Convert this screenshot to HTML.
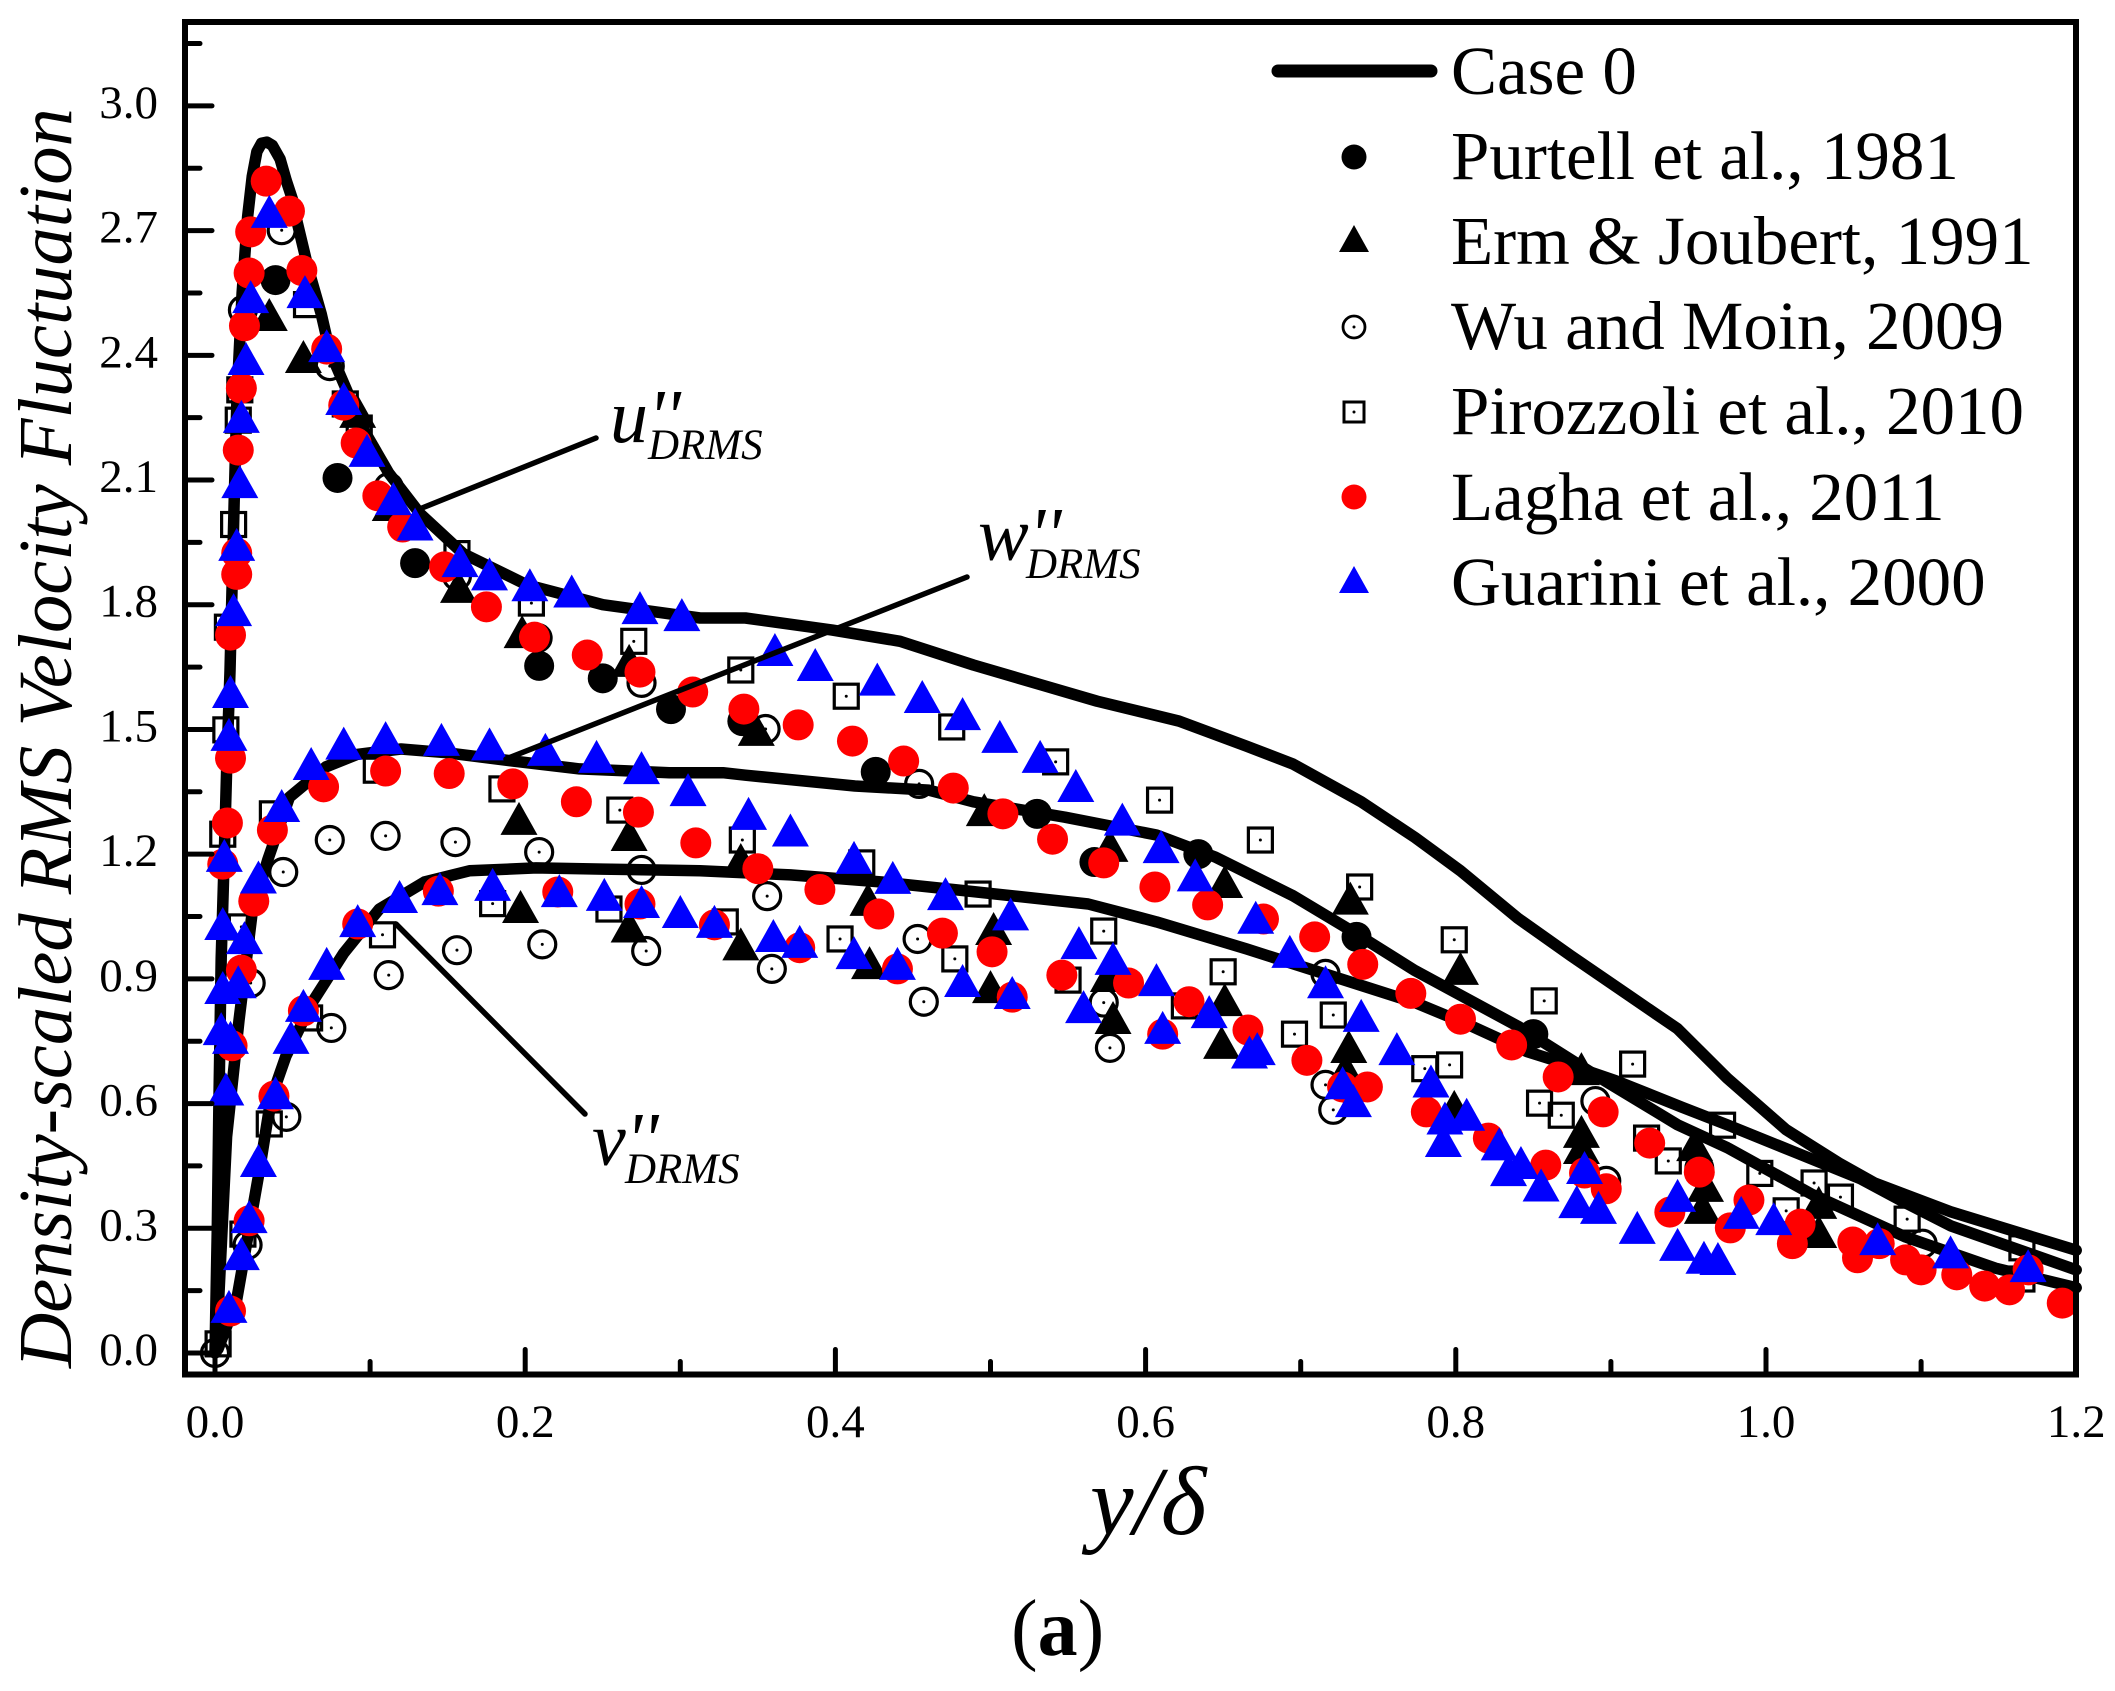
<!DOCTYPE html>
<html lang="en">
<head>
<meta charset="utf-8">
<title>Density-scaled RMS Velocity Fluctuation</title>
<style>
html,body{margin:0;padding:0;background:#fff;width:2115px;height:1691px;overflow:hidden}
svg{display:block}
text{font-family:"Liberation Serif",serif;fill:#000}
.it{font-style:italic}
</style>
</head>
<body>
<svg id="chart" xmlns="http://www.w3.org/2000/svg" width="2115" height="1691" viewBox="0 0 2115 1691">
<rect width="2115" height="1691" fill="#fff"/>
<g id="curves"></g>
<g id="marks"></g>
<g id="axes"></g>

<g>
<line x1="422" y1="508" x2="596" y2="438" stroke="#000" stroke-width="5.5" stroke-linecap="round"/>
<line x1="506" y1="759" x2="967" y2="577" stroke="#000" stroke-width="5.5" stroke-linecap="round"/>
<line x1="396" y1="924" x2="585" y2="1114" stroke="#000" stroke-width="5.5" stroke-linecap="round"/>
<text class="it" x="610" y="442" font-size="76">u''</text>
<text class="it" x="648" y="459" font-size="43">DRMS</text>
<text class="it" x="978" y="560" font-size="76">w''</text>
<text class="it" x="1026" y="578" font-size="43">DRMS</text>
<text class="it" x="592" y="1165" font-size="76">v''</text>
<text class="it" x="625" y="1183" font-size="43">DRMS</text>
</g>

<g font-size="69">
<line x1="1278" y1="71" x2="1431" y2="71" stroke="#000" stroke-width="13" stroke-linecap="round"/>
<text x="1451" y="94">Case 0</text>
<circle cx="1354" cy="157" r="12.5" fill="#000"/>
<text x="1451" y="179">Purtell et al., 1981</text>
<polygon points="1354,225 1369,252 1339,252" fill="#000"/>
<text x="1451" y="264">Erm &amp; Joubert, 1991</text>
<circle cx="1354" cy="327" r="11" fill="none" stroke="#000" stroke-width="2.8"/>
<circle cx="1354" cy="327" r="1.5" fill="#000"/>
<text x="1451" y="349">Wu and Moin, 2009</text>
<rect x="1344" y="402" width="20" height="20" fill="none" stroke="#000" stroke-width="3"/>
<circle cx="1354" cy="412" r="1.5" fill="#000"/>
<text x="1451" y="434">Pirozzoli et al., 2010</text>
<circle cx="1354" cy="497" r="12.5" fill="#f00"/>
<text x="1451" y="520">Lagha et al., 2011</text>
<polygon points="1354,566 1369,593 1339,593" fill="#00f"/>
<text x="1451" y="605">Guarini et al., 2000</text>
</g>

<text class="it" font-size="76.5" transform="translate(71,1368) rotate(-90)">Density-scaled RMS Velocity Fluctuation</text>
<text class="it" font-size="98" x="1090" y="1534">y/δ</text>
<text font-size="80" x="1011" y="1655">(<tspan font-weight="bold">a</tspan>)</text>
</svg>

<script>
const yTickLabels = ["0.0","0.3","0.6","0.9","1.2","1.5","1.8","2.1","2.4","2.7","3.0"];
const xTickLabels = ["0.0","0.2","0.4","0.6","0.8","1.0","1.2"];
const yMinorTicks = [0.15,0.45,0.75,1.05,1.35,1.65,1.95,2.25,2.55,2.85,3.15];
const xMinorTicks = [0.1,0.3,0.5,0.7,0.9,1.1];

const uCurve = [[0,0],[.0015,.3],[.0025,.6],[.004,.95],[.006,1.2],[.0075,1.4],[.0097,1.64],[.0125,2.07],[.0142,2.3],[.0175,2.55],[.021,2.733],[.024,2.83],[.027,2.89],[.03,2.91],[.0335,2.913],[.037,2.905],[.042,2.872],[.046,2.82],[.05,2.774],[.053,2.72],[.06,2.61],[.0685,2.5],[.074,2.41],[.096,2.22],[.112,2.117],[.132,2.02],[.16,1.923],[.201,1.848],[.25,1.80],[.3127,1.768],[.342,1.768],[.398,1.739],[.4417,1.712],[.489,1.655],[.533,1.607],[.5687,1.568],[.6216,1.52],[.665,1.46],[.695,1.417],[.739,1.326],[.7737,1.24],[.803,1.16],[.84,1.046],[.874,.956],[.912,.859],[.943,.78],[.975,.661],[1.013,.537],[1.047,.457],[1.07,.409],[1.119,.34],[1.2,.247]];
const wCurve = [[0,0],[.002,.1],[.0075,.52],[.0155,.80],[.024,1.06],[.034,1.186],[.048,1.337],[.0715,1.41],[.0916,1.44],[.12,1.453],[.149,1.444],[.192,1.424],[.235,1.405],[.293,1.396],[.3275,1.396],[.342,1.39],[.4126,1.364],[.46,1.354],[.489,1.326],[.548,1.289],[.607,1.246],[.645,1.193],[.695,1.10],[.733,1.015],[.7737,.92],[.841,.784],[.889,.671],[.943,.549],[.975,.494],[1.03,.381],[1.09,.279],[1.148,.204],[1.2,.157]];
const vCurve = [[0,0],[.002,.01],[.0139,.127],[.029,.447],[.036,.61],[.0457,.714],[.0628,.844],[.083,.962],[.106,1.068],[.135,1.133],[.164,1.16],[.207,1.167],[.25,1.164],[.3127,1.16],[.371,1.15],[.43,1.133],[.489,1.11],[.563,1.08],[.607,1.037],[.665,.972],[.724,.902],[.7737,.843],[.808,.79],[.846,.725],[.874,.692],[.903,.655],[.946,.591],[.975,.549],[1.018,.484],[1.061,.419],[1.09,.361],[1.119,.306],[1.2,.2]];

const purtell = [[.039,2.581],[.079,2.105],[.129,1.900],[.209,1.653],[.250,1.623],[.294,1.549],[.340,1.520],[.426,1.398],[.530,1.297],[.634,1.200],[.736,1.001],[.850,.767],[.957,.445],[.567,1.181]];
const erm = [[.035,2.497],[.057,2.396],[.092,2.264],[.113,2.040],[.157,1.843],[.198,1.734],[.267,1.665],[.349,1.499],[.496,1.306],[.577,1.220],[.651,1.133],[.732,1.093],[.803,.924],[.881,.683],[.881,.532],[.881,.493],[.954,.500],[.961,.402],[.959,.349],[1.034,.361],[1.034,.291],[.799,.592],[.196,1.285],[.267,1.246],[.197,1.073],[.267,1.026],[.339,.983],[.339,1.186],[.421,1.090],[.502,1.020],[.422,.938],[.500,.880],[.651,.849],[.579,.806],[.649,.746],[.576,.907],[.731,.736],[.729,.682]];
const wu = [[.043,2.701],[.074,2.374],[.018,2.509],[.112,2.083],[.156,1.869],[.208,1.720],[.275,1.612],[.355,1.501],[.454,1.369],[.716,.912],[.890,.606],[.074,1.234],[.110,1.244],[.155,1.229],[.209,1.205],[.275,1.162],[.044,1.157],[.023,.890],[.356,1.099],[.453,.996],[.573,.843],[.716,.645],[.897,.414],[.075,.782],[.046,.568],[.021,.260],[0,0],[.112,.909],[.156,.969],[.211,.983],[.278,.967],[.359,.924],[.457,.845],[.577,.734],[.721,.585],[1.101,.263]];
const pirozzoli = [[.059,2.522],[.084,2.283],[.093,2.225],[.016,2.317],[.015,2.244],[.012,1.993],[.156,1.923],[.204,1.804],[.270,1.712],[.008,1.746],[.007,1.499],[.339,1.643],[.407,1.580],[.475,1.506],[.542,1.422],[.609,1.330],[.674,1.234],[.738,1.121],[.799,.994],[.857,.847],[.914,.695],[.972,.548],[1.031,.409],[1.091,.322],[1.165,.253],[.005,1.248],[.037,1.297],[.104,1.402],[.185,1.357],[.261,1.306],[.340,1.234],[.417,1.179],[.492,1.104],[.573,1.015],[.650,.917],[.721,.813],[.696,.767],[.780,.684],[.796,.693],[.854,.601],[.868,.572],[.923,.517],[.937,.462],[.996,.432],[1.013,.342],[1.048,.375],[.017,1.025],[.061,.806],[.108,1.006],[.179,1.081],[.254,1.068],[.329,1.037],[.403,.996],[.477,.948],[.550,.897],[.625,.835],[.035,.551],[.018,.286],[.002,.022],[1.165,.178]];
const lagha = [[.033,2.819],[.048,2.747],[.023,2.697],[.056,2.604],[.022,2.598],[.019,2.471],[.072,2.415],[.017,2.321],[.083,2.280],[.015,2.172],[.091,2.189],[.105,2.062],[.121,1.987],[.014,1.924],[.014,1.873],[.148,1.891],[.175,1.795],[.010,1.727],[.206,1.722],[.240,1.679],[.274,1.638],[.308,1.590],[.341,1.549],[.376,1.511],[.411,1.472],[.444,1.424],[.476,1.359],[.508,1.297],[.540,1.236],[.573,1.179],[.606,1.121],[.640,1.078],[.676,1.044],[.709,1.001],[.740,.935],[.771,.865],[.803,.803],[.836,.741],[.866,.664],[.895,.580],[.925,.505],[.957,.435],[.989,.368],[.977,.301],[1.022,.310],[1.017,.263],[1.056,.267],[1.059,.229],[1.073,.263],[1.090,.224],[1.100,.200],[1.123,.188],[1.141,.161],[1.157,.152],[1.169,.200],[1.191,.120],[.010,1.431],[.008,1.275],[.005,1.176],[.037,1.258],[.070,1.362],[.110,1.400],[.151,1.394],[.192,1.369],[.233,1.326],[.273,1.301],[.310,1.227],[.350,1.165],[.390,1.115],[.428,1.056],[.469,1.010],[.501,.965],[.546,.909],[.589,.890],[.628,.845],[.666,.777],[.704,.704],[.743,.640],[.781,.580],[.821,.517],[.858,.452],[.897,.395],[.938,.339],[.025,1.087],[.017,.921],[.011,.739],[.010,.101],[.022,.318],[.038,.618],[.057,.823],[.092,1.032],[.144,1.111],[.221,1.109],[.274,1.080],[.322,1.030],[.377,.975],[.440,.924],[.514,.856],[.611,.767],[.727,.640],[.883,.433]];
const guarini = [[.035,2.745],[.023,2.540],[.058,2.552],[.072,2.422],[.020,2.391],[.083,2.295],[.017,2.252],[.098,2.170],[.016,2.095],[.115,2.054],[.129,1.993],[.014,1.944],[.158,1.905],[.177,1.873],[.203,1.847],[.230,1.832],[.012,1.787],[.274,1.792],[.301,1.775],[.010,1.590],[.009,1.487],[.006,1.196],[.083,1.466],[.110,1.479],[.146,1.475],[.177,1.464],[.062,1.417],[.043,1.316],[.028,1.144],[.213,1.451],[.246,1.434],[.275,1.407],[.305,1.354],[.361,1.691],[.387,1.655],[.427,1.620],[.456,1.578],[.482,1.537],[.506,1.482],[.532,1.434],[.555,1.364],[.585,1.283],[.610,1.217],[.632,1.149],[.671,1.047],[.693,.965],[.716,.892],[.739,.811],[.762,.731],[.784,.653],[.807,.573],[.793,.564],[.792,.510],[.828,.502],[.842,.457],[.834,.440],[.855,.403],[.883,.445],[.878,.363],[.892,.349],[.917,.301],[.943,.378],[.943,.260],[.960,.229],[.969,.226],[.984,.337],[1.005,.322],[1.072,.274],[1.119,.242],[1.169,.209],[.344,1.297],[.371,1.257],[.412,1.191],[.437,1.143],[.471,1.104],[.513,1.055],[.557,.986],[.579,.948],[.560,.832],[.607,.897],[.611,.782],[.641,.820],[.672,.731],[.667,.723],[.727,.649],[.734,.606],[.005,1.032],[.019,.998],[.005,.878],[.015,.892],[.004,.779],[.010,.758],[.007,.634],[.039,.625],[.028,.462],[.022,.327],[.017,.238],[.009,.111],[.049,.758],[.057,.835],[.072,.936],[.092,1.039],[.119,1.097],[.145,1.116],[.179,1.126],[.222,1.111],[.251,1.102],[.275,1.085],[.300,1.061],[.322,1.037],[.360,1.003],[.377,.989],[.412,.962],[.440,.936],[.482,.895],[.514,.866]];

const NS = "http://www.w3.org/2000/svg";
const plotLeft = 185, plotRight = 2076, plotTop = 22, plotBottom = 1374.5;
function sx(v){ return 215 + 1551 * v; }
function sy(v){ return 1353 - 415.7 * v; }

function make(tag, attrs, parent){
  const el = document.createElementNS(NS, tag);
  for (const k in attrs) el.setAttribute(k, attrs[k]);
  parent.appendChild(el);
  return el;
}

const curvesG = document.getElementById('curves');
const marksG = document.getElementById('marks');
const axesG = document.getElementById('axes');

function drawCurve(data, name){
  const pts = data.map(p => sx(p[0]).toFixed(1) + ',' + sy(p[1]).toFixed(1)).join(' ');
  const el = make('polyline', {points: pts, fill: 'none', stroke: '#000', 'stroke-width': 11.5, 'stroke-linejoin': 'round', 'stroke-linecap': 'round'}, curvesG);
  
  
}
drawCurve(uCurve, 'curve-u-rms');
drawCurve(wCurve, 'curve-w-rms');
drawCurve(vCurve, 'curve-v-rms');

function drawDisc(data, color, r, name){
  data.forEach(p => {
    const el = make('circle', {cx: sx(p[0]), cy: sy(p[1]), r: r, fill: color}, marksG);
    
    
  });
}
function drawTriangle(data, color, name){
  data.forEach(p => {
    const x = sx(p[0]), y = sy(p[1]);
    const el = make('polygon', {points: x + ',' + (y - 17) + ' ' + (x + 18.5) + ',' + (y + 16) + ' ' + (x - 18.5) + ',' + (y + 16), fill: color}, marksG);
    
    
  });
}
function drawOpenCircle(data, name){
  data.forEach(p => {
    const x = sx(p[0]), y = sy(p[1]);
    const el = make('circle', {cx: x, cy: y, r: 13.5, fill: 'none', stroke: '#000', 'stroke-width': 3.2}, marksG);
    
    
    const dot = make('circle', {cx: x, cy: y, r: 1.5, fill: '#000'}, marksG);
    
    
  });
}
function drawOpenSquare(data, name){
  data.forEach(p => {
    const x = sx(p[0]), y = sy(p[1]);
    const el = make('rect', {x: x - 12, y: y - 12, width: 24, height: 24, fill: 'none', stroke: '#000', 'stroke-width': 3.2}, marksG);
    
    
    const dot = make('circle', {cx: x, cy: y, r: 1.5, fill: '#000'}, marksG);
    
    
  });
}
drawDisc(purtell, '#000', 15, 'purtell-point');
drawTriangle(erm, '#000', 'erm-point');
drawOpenCircle(wu, 'wu-point');
drawOpenSquare(pirozzoli, 'pirozzoli-point');
drawDisc(lagha, '#f00', 15.5, 'lagha-point');
drawTriangle(guarini, '#00f', 'guarini-point');

function tickY(v, len, name){
  const el = make('line', {x1: plotLeft, x2: plotLeft + len, y1: sy(v), y2: sy(v), stroke: '#000', 'stroke-width': 5, 'stroke-linecap': 'round'}, axesG);
  
  
}
function tickX(v, len, name){
  const el = make('line', {x1: sx(v), x2: sx(v), y1: plotBottom, y2: plotBottom - len, stroke: '#000', 'stroke-width': 5, 'stroke-linecap': 'round'}, axesG);
  
  
}
yMinorTicks.forEach(v => tickY(v, 15, 'y-minor-tick'));
xMinorTicks.forEach(v => tickX(v, 13, 'x-minor-tick'));
yTickLabels.forEach(s => {
  const v = parseFloat(s);
  tickY(v, 27, 'y-major-tick');
  const t = make('text', {x: 158, y: sy(v) + 12, 'text-anchor': 'end', 'font-size': 47}, axesG);
  t.textContent = s;
  
  
});
xTickLabels.forEach(s => {
  const v = parseFloat(s);
  tickX(v, 25, 'x-major-tick');
  const t = make('text', {x: sx(v), y: 1437, 'text-anchor': 'middle', 'font-size': 47}, axesG);
  t.textContent = s;
  
  
});
const frame = make('rect', {x: plotLeft, y: plotTop, width: plotRight - plotLeft, height: plotBottom - plotTop, fill: 'none', stroke: '#000', 'stroke-width': 6}, axesG);


</script>
</body>
</html>
